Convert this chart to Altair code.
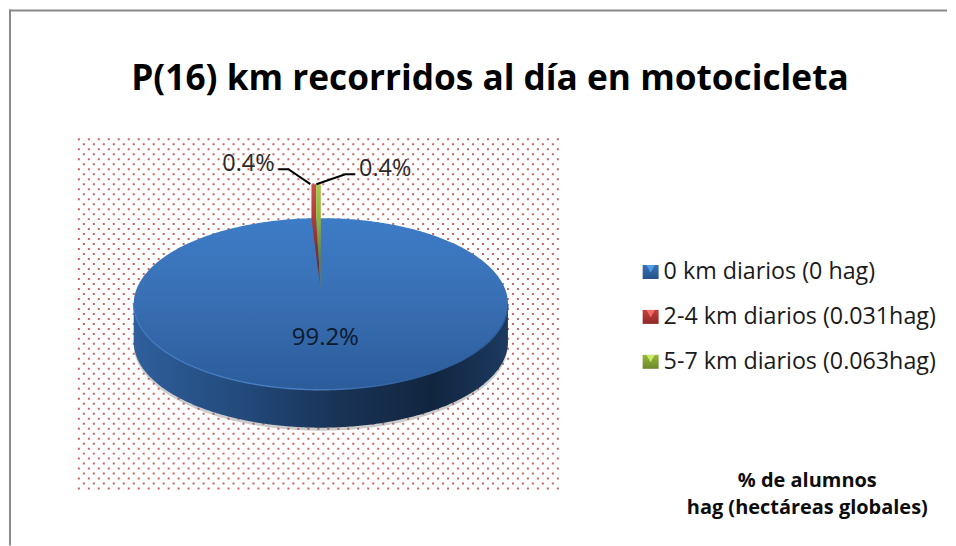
import math
import altair as alt
import pandas as pd

# ---- chart values
categories = ["0 km diarios (0 hag)", "2-4 km diarios (0.031hag)", "5-7 km diarios (0.063hag)"]
shares = [99.2, 0.4, 0.4]
share_labels = ["99.2%", "0.4%", "0.4%"]
title_text = "P(16) km recorridos al día en motocicleta"
note_lines = ["% de alumnos", "hag (hectáreas globales)"]

# ---- layout of the pie on the page
FONT = "Open Sans"
CX, CY, RX, RY, DEPTH = 320.5, 304.0, 187.5, 86.0, 38.0
LIFT, APEX = 34.0, 292.0

XS = alt.Scale(domain=[8, 948], range=[0, 940])
YS = alt.Scale(domain=[8, 546], range=[0, 538])
X = alt.X("x:Q", scale=XS, axis=None)
Y = alt.Y("y:Q", scale=YS, axis=None)


def ych(field):
    return alt.Y(field, scale=YS, axis=None)


def grad(stops, horizontal=False):
    return alt.Gradient(
        gradient="linear",
        stops=[alt.GradientStop(offset=o, color=c) for o, c in stops],
        x1=0, x2=1 if horizontal else 0, y1=0, y2=0 if horizontal else 1,
    )


# ---- page frame
frame_top = alt.Chart(pd.DataFrame({"x": [8], "x2": [948], "y": [10]})).mark_rule(
    color="#8a8a8a", strokeWidth=2).encode(x=X, x2="x2:Q", y=Y)
frame_left = alt.Chart(pd.DataFrame({"x": [9], "y": [9], "y2": [546]})).mark_rule(
    color="#8a8a8a", strokeWidth=2).encode(x=X, y=Y, y2="y2:Q")

# ---- dotted plot-area background
rows = [{"x": 77.0, "x2": 560.0, "y": 139.0 + 5 * i, "odd": i % 2} for i in range(71)]
bg = pd.DataFrame(rows)
dots_a = alt.Chart(bg[bg.odd == 0]).mark_rule(
    color="#b83c3a", strokeWidth=2, strokeDash=[2, 8], opacity=0.8
).encode(x=X, x2="x2:Q", y=Y)
dots_b = alt.Chart(bg[bg.odd == 1]).mark_rule(
    color="#b83c3a", strokeWidth=2, strokeDash=[2, 8], strokeDashOffset=5, opacity=0.8
).encode(x=X, x2="x2:Q", y=Y)

# ---- pie geometry, from the shares
N = 240
ell = []
for i in range(N + 1):
    a = math.pi * i / N
    ell.append({
        "x": CX - RX * math.cos(a),
        "yt": CY - RY * math.sin(a),
        "yb": CY + RY * math.sin(a),
        "yw": CY + RY * math.sin(a) + DEPTH,
        "ys": CY + RY * math.sin(a) + DEPTH + 3,
    })
ell = pd.DataFrame(ell)

shadow = alt.Chart(ell).mark_area(color="#555555", opacity=0.3).encode(
    x=X, y=ych("yb:Q"), y2="ys:Q")
wall = alt.Chart(ell).mark_area(
    color=grad([(0, "#2f5f9c"), (0.3, "#22497a"), (0.55, "#193356"),
                (0.8, "#11253f"), (1, "#1c3a60")], horizontal=True)
).encode(x=X, y=ych("yb:Q"), y2="yw:Q")
top = alt.Chart(ell).mark_area(
    color=grad([(0, "#3d7cc6"), (0.45, "#3970b5"), (1, "#2c5c9a")])
).encode(x=X, y=ych("yt:Q"), y2="yb:Q")
rim = alt.Chart(ell).mark_line(
    strokeWidth=1.4,
    color=grad([(0, "#3f78bd"), (0.45, "#4a80c4"), (0.75, "#2e5f9e"), (1, "#2a5a96")], horizontal=True),
).encode(x=X, y=ych("yb:Q"), order="x:Q")


def wedge(start_share, end_share, stops):
    a0 = 2 * math.pi * start_share / 100
    a1 = 2 * math.pi * end_share / 100
    left, right = CX + RX * math.sin(a0), CX + RX * math.sin(a1)
    rim_y = CY - RY
    d = pd.DataFrame({
        "y": [rim_y - LIFT, rim_y, APEX],
        "x": [left, left, CX],
        "x2": [right, right, CX],
    })
    return alt.Chart(d).mark_area(orient="horizontal", color=grad(stops)).encode(
        y=Y, x=X, x2="x2:Q")


red = wedge(shares[0], shares[0] + shares[1],
            [(0, "#c9504c"), (0.35, "#a83a37"), (0.75, "#6e2a30"), (1, "#5a6f8c")])
green = wedge(shares[0] + shares[1], 100,
              [(0, "#a9c94e"), (0.35, "#8fb03e"), (0.7, "#5d7c50"), (1, "#5a78a0")])

# ---- leader lines
leader = pd.DataFrame({
    "x": [278, 288, 310, 355, 345, 316],
    "y": [169, 169, 184, 174, 174, 184],
    "k": ["a", "a", "a", "b", "b", "b"],
    "o": [0, 1, 2, 0, 1, 2],
})
leaders = alt.Chart(leader).mark_line(color="#000000", strokeWidth=2).encode(
    x=X, y=Y, detail="k:N", order="o:Q")


def text(rows, **kw):
    base = dict(font=FONT, baseline="alphabetic", align="center")
    base.update(kw)
    return alt.Chart(pd.DataFrame(rows)).mark_text(**base).encode(x=X, y=Y, text="t:N")


title = text([{"x": 490, "y": 90, "t": title_text}], fontSize=35.3, fontWeight="bold", color="#000000")
lab_a = text([{"x": 248, "y": 171, "t": share_labels[1]}, {"x": 385, "y": 176, "t": share_labels[2]}],
             fontSize=23.5, color="#2a2a2a")
lab_b = text([{"x": 325, "y": 345, "t": share_labels[0]}], fontSize=24, color="#0b1a2c")
note = text([{"x": 808, "y": 487, "t": note_lines[0]}, {"x": 808, "y": 515, "t": note_lines[1]}],
            fontSize=20, fontWeight="bold", color="#0d0d0d")

# ---- legend
leg_y = [272, 317, 362]
leg_cols = [("#4f9be6", "#3a71b4", "#24528c"), ("#ef6a66", "#c0403c", "#8f2826"), ("#c8e860", "#94b53e", "#6d8a2a")]
leg_text = []
charts = []
for name, y0, (hi, mid, lo) in zip(categories, leg_y, leg_cols):
    d = pd.DataFrame({"x": [643], "x2": [659], "y": [y0 - 7], "y2": [y0 + 7]})
    charts.append(alt.Chart(d).mark_rect(color=grad([(0, mid), (1, lo)])).encode(x=X, x2="x2:Q", y=Y, y2="y2:Q"))
    charts.append(alt.Chart(pd.DataFrame({"x": [651], "y": [y0 - 3.2]})).mark_point(
        shape="triangle-down", filled=True, color=hi, opacity=1, size=75).encode(x=X, y=Y))
    leg_text.append({"x": 664, "y": y0 + 7, "t": name})
legend_text = text(leg_text, align="left", fontSize=23.3, color="#1a1a1a")

chart = alt.layer(
    frame_top, frame_left, dots_a, dots_b, shadow, wall, top, rim, red, green, leaders,
    title, lab_a, lab_b, note, *charts, legend_text,
).properties(width=940, height=538, padding=0, background="white").configure_view(stroke=None)

chart.save("out.html", embed_options={"renderer": "svg", "actions": False})
